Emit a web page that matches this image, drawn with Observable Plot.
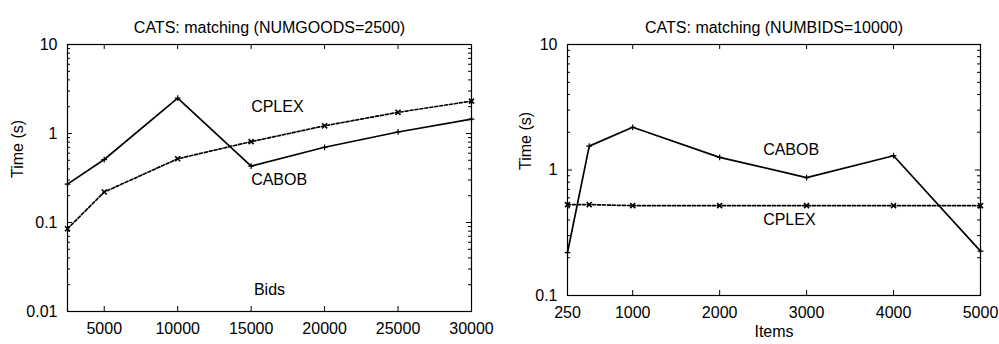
<!DOCTYPE html>
<html><head><meta charset="utf-8">
<script src="https://cdn.jsdelivr.net/npm/d3@7"></script>
<script src="https://cdn.jsdelivr.net/npm/@observablehq/plot@0.6"></script>
<style>
body{margin:0;background:#fff;}
#row{display:flex;width:999px;height:344px;}
#row svg{font-family:"Liberation Sans",Arial,sans-serif;overflow:visible;}
</style></head><body><div id="row"></div>
<script>
// Left panel: varying number of bids (NUMGOODS=2500)
const bidsX = [2500, 5000, 10000, 15000, 20000, 25000, 30000];
const cabobBids = [0.27, 0.51, 2.5, 0.43, 0.70, 1.04, 1.45];
const cplexBids = [0.085, 0.22, 0.52, 0.81, 1.22, 1.73, 2.31];
const bidsTicks = [5000, 10000, 15000, 20000, 25000, 30000];
const bidsYTicks = [0.01, 0.1, 1, 10];
const bidsLabelText = ["CPLEX", "CABOB"];
const bidsLabelX = [15000, 15000];
const bidsLabelY = [2, 0.3];

// Right panel: varying number of items (NUMBIDS=10000)
const itemsX = [250, 500, 1000, 2000, 3000, 4000, 5000];
const cabobItems = [0.22, 1.55, 2.19, 1.26, 0.87, 1.30, 0.226];
const cplexItems = [0.53, 0.53, 0.52, 0.52, 0.52, 0.52, 0.52];
const itemsTicks = [250, 1000, 2000, 3000, 4000, 5000];
const itemsYTicks = [0.1, 1, 10];
const itemsLabelText = ["CABOB", "CPLEX"];
const itemsLabelX = [2500, 2500];
const itemsLabelY = [1.45, 0.4];

const FS = 16;

function panel(o) {
  const H = 344, W = o.width;
  const mT = 44, mB = o.marginBottom, mL = o.marginLeft, mR = o.marginRight;
  const fh = H - mT - mB, fw = W - mL - mR;
  const rows = [];
  o.x.forEach((x, i) => {
    rows.push({x, t: o.cabob[i], s: "CABOB"});
    rows.push({x, t: o.cplex[i], s: "CPLEX"});
  });
  const cab = rows.filter(d => d.s === "CABOB");
  const cpl = rows.filter(d => d.s === "CPLEX");
  const allY = d3.scaleLog().domain(o.yDomain).ticks();
  const minorY = allY.filter(v => !o.yTicks.some(t => Math.abs(t - v) < 1e-9));
  const labels = o.labelText.map((t, i) => ({t, x: o.labelX[i], y: o.labelY[i]}));
  const majLen = 5, minLen = 3;
  return Plot.plot({
    width: W, height: H,
    marginTop: mT, marginBottom: mB, marginLeft: mL, marginRight: mR,
    style: {fontSize: FS + "px", fontFamily: '"Liberation Sans", Arial, sans-serif', color: "#000", background: "#fff"},
    x: {domain: o.xDomain, ticks: o.xTicks, tickFormat: d => String(d), tickSize: 0, tickPadding: 11, label: null},
    y: {type: "log", domain: o.yDomain, ticks: o.yTicks, tickFormat: d => String(d), tickSize: 0, tickPadding: 10, label: null},
    marks: [
      // inward ticks
      Plot.ruleX(o.xTicks, {x: d => d, insetTop: fh - majLen, stroke: "#000"}),
      Plot.ruleX(o.xTicks, {x: d => d, insetBottom: fh - majLen, stroke: "#000"}),
      Plot.ruleY(o.yTicks, {y: d => d, insetRight: fw - majLen, stroke: "#000"}),
      Plot.ruleY(o.yTicks, {y: d => d, insetLeft: fw - majLen, stroke: "#000"}),
      Plot.ruleY(minorY, {y: d => d, insetRight: fw - minLen, stroke: "#000"}),
      Plot.ruleY(minorY, {y: d => d, insetLeft: fw - minLen, stroke: "#000"}),
      Plot.frame({stroke: "#000", strokeWidth: 1.2}),
      Plot.line(cab, {x: "x", y: "t", stroke: "#000", strokeWidth: 1.7}),
      Plot.line(cpl, {x: "x", y: "t", stroke: "#000", strokeWidth: 1.7, strokeDasharray: "3,2"}),
      Plot.dot(cab, {x: "x", y: "t", symbol: "plus", r: 2, stroke: "#000", strokeWidth: 1.2}),
      Plot.dot(cpl, {x: "x", y: "t", symbol: "times", r: 2.4, stroke: "#000", strokeWidth: 1.6}),
      Plot.text(labels, {x: "x", y: "y", text: "t", textAnchor: "start", fontSize: FS, fill: "#000"}),
      Plot.text([o.title], {frameAnchor: "top", dy: -23, fontSize: FS, fill: "#000"}),
      Plot.text(["Time (s)"], {frameAnchor: "left", dx: o.ylabelDx, rotate: -90, fontSize: FS, fill: "#000"}),
      Plot.text([o.xlabel], {frameAnchor: "bottom", dy: o.xlabelDy, fontSize: FS, fill: "#000"})
    ]
  });
}

const row = document.getElementById("row");
row.appendChild(panel({
  width: 500, marginLeft: 67, marginRight: 29, marginBottom: 33,
  xDomain: [2500, 30000], xTicks: bidsTicks, yDomain: [0.01, 10], yTicks: bidsYTicks,
  x: bidsX, cabob: cabobBids, cplex: cplexBids,
  labelText: bidsLabelText, labelX: bidsLabelX, labelY: bidsLabelY,
  title: "CATS: matching (NUMGOODS=2500)", xlabel: "Bids", xlabelDy: -17, ylabelDx: -50
}));
row.appendChild(panel({
  width: 499, marginLeft: 67, marginRight: 19, marginBottom: 49,
  xDomain: [250, 5000], xTicks: itemsTicks, yDomain: [0.1, 10], yTicks: itemsYTicks,
  x: itemsX, cabob: cabobItems, cplex: cplexItems,
  labelText: itemsLabelText, labelX: itemsLabelX, labelY: itemsLabelY,
  title: "CATS: matching (NUMBIDS=10000)", xlabel: "Items", xlabelDy: 41, ylabelDx: -42
}));
</script></body></html>
